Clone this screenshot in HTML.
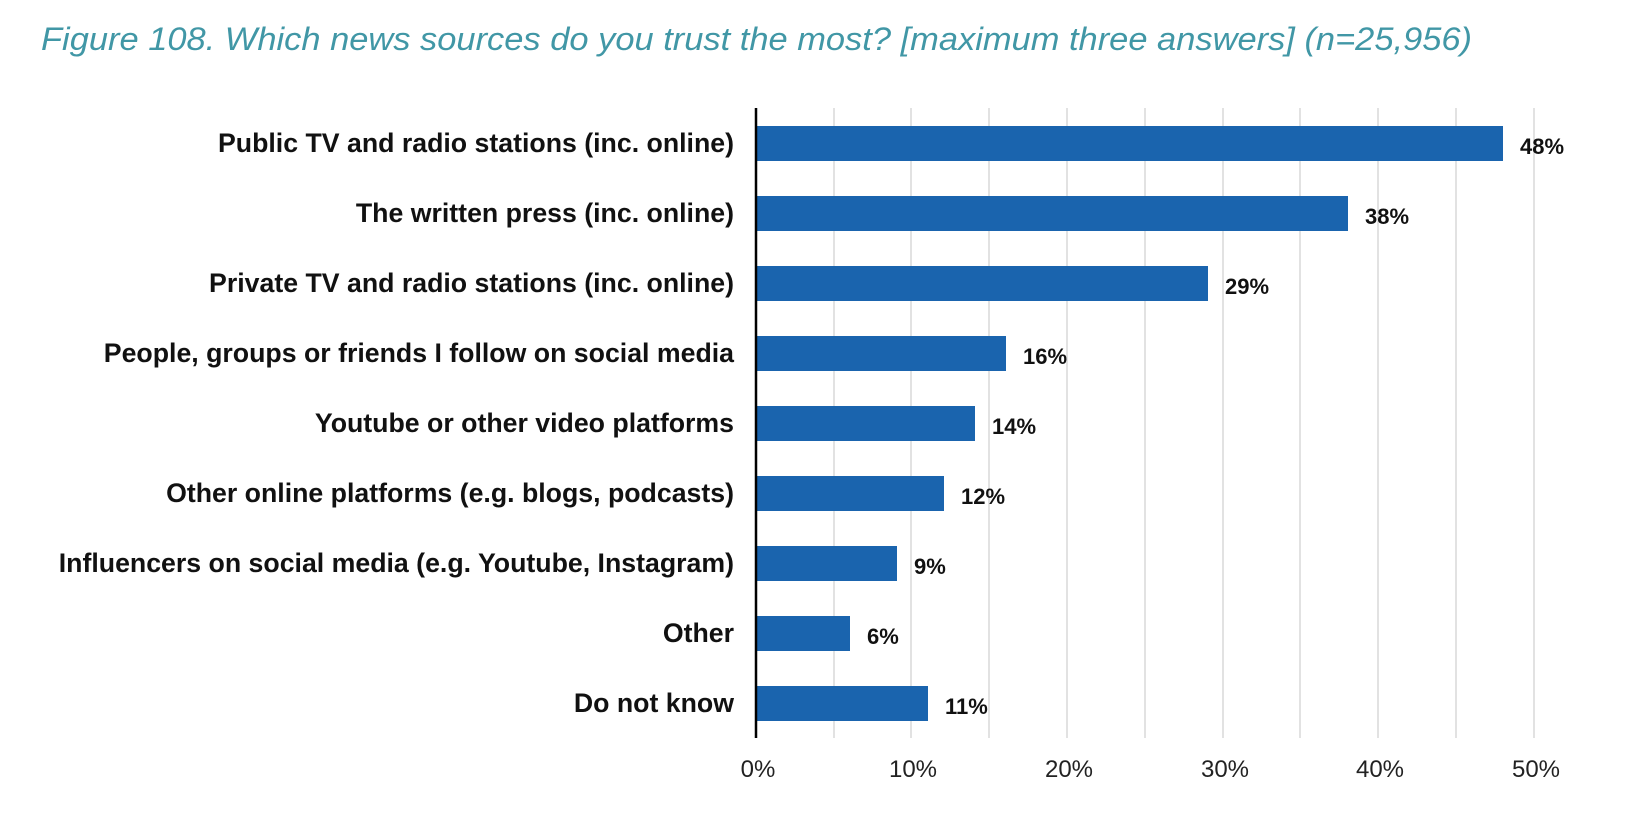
<!DOCTYPE html>
<html><head><meta charset="utf-8"><style>body{margin:0;background:#fff}svg{display:block}</style></head><body>
<svg width="1628" height="824" xmlns="http://www.w3.org/2000/svg" font-family="Liberation Sans, Arial, sans-serif">
<text x="41" y="50" font-size="32" font-style="italic" fill="#4197a6" textLength="1431" lengthAdjust="spacingAndGlyphs">Figure 108. Which news sources do you trust the most? [maximum three answers] (n=25,956)</text>
<g stroke="#e2e2e2" stroke-width="2">
<line x1="834" y1="108" x2="834" y2="738"/><line x1="911" y1="108" x2="911" y2="738"/><line x1="989" y1="108" x2="989" y2="738"/><line x1="1067" y1="108" x2="1067" y2="738"/><line x1="1145" y1="108" x2="1145" y2="738"/><line x1="1223" y1="108" x2="1223" y2="738"/><line x1="1300" y1="108" x2="1300" y2="738"/><line x1="1378" y1="108" x2="1378" y2="738"/><line x1="1456" y1="108" x2="1456" y2="738"/><line x1="1534" y1="108" x2="1534" y2="738"/>
</g>
<g fill="#1a64ae">
<rect x="757" y="126" width="746" height="35"/>
<rect x="757" y="196" width="591" height="35"/>
<rect x="757" y="266" width="451" height="35"/>
<rect x="757" y="336" width="249" height="35"/>
<rect x="757" y="406" width="218" height="35"/>
<rect x="757" y="476" width="187" height="35"/>
<rect x="757" y="546" width="140" height="35"/>
<rect x="757" y="616" width="93" height="35"/>
<rect x="757" y="686" width="171" height="35"/>
</g>
<line x1="756" y1="108" x2="756" y2="738" stroke="#000" stroke-width="2.5"/>
<g font-size="26.7" font-weight="bold" text-anchor="end" fill="#111">
<text x="734" y="152">Public TV and radio stations (inc. online)</text>
<text x="734" y="222">The written press (inc. online)</text>
<text x="734" y="292">Private TV and radio stations (inc. online)</text>
<text x="734" y="362">People, groups or friends I follow on social media</text>
<text x="734" y="432">Youtube or other video platforms</text>
<text x="734" y="502">Other online platforms (e.g. blogs, podcasts)</text>
<text x="734" y="572">Influencers on social media (e.g. Youtube, Instagram)</text>
<text x="734" y="642">Other</text>
<text x="734" y="712">Do not know</text>
</g>
<g font-size="22" font-weight="bold" fill="#111">
<text x="1520" y="154">48%</text>
<text x="1365" y="224">38%</text>
<text x="1225" y="294">29%</text>
<text x="1023" y="364">16%</text>
<text x="992" y="434">14%</text>
<text x="961" y="504">12%</text>
<text x="914" y="574">9%</text>
<text x="867" y="644">6%</text>
<text x="945" y="714">11%</text>
</g>
<g font-size="24" text-anchor="middle" fill="#222">
<text x="758" y="777">0%</text><text x="913" y="777">10%</text><text x="1069" y="777">20%</text><text x="1225" y="777">30%</text><text x="1380" y="777">40%</text><text x="1536" y="777">50%</text>
</g>
</svg>
</body></html>
